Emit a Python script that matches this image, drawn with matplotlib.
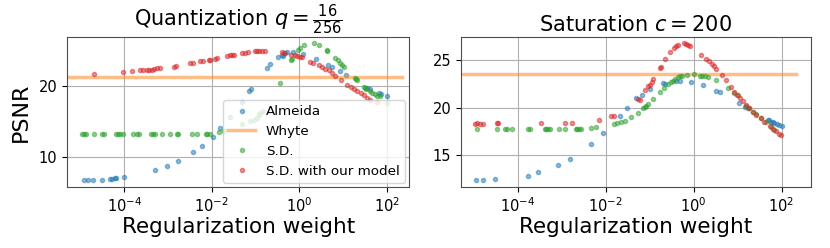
import numpy as np
import matplotlib
matplotlib.use("Agg")
import matplotlib.pyplot as plt

# data: log10(regularization weight) and PSNR
# --- Quantization q = 16/256 ---
q_almeida_logw = [-4.91, -4.82, -4.72, -4.51, -4.32, -4.27, -4.22, -4.18, -4.0, -3.29, -3.02,
                  -2.78, -2.42, -2.22, -1.98, -1.82, -1.58, -1.31, -1.14, -1.10, -0.74, -0.66,
                  -0.49, -0.40, -0.37, -0.32, -0.27, -0.15, 0.08, 0.38, 0.65, 0.75, 0.92, 1.07,
                  1.55, 1.62, 1.81, 1.87, 2.0]
q_almeida_psnr = [6.7, 6.7, 6.7, 6.75, 6.85, 6.85, 6.9, 6.9, 7.05, 8.1, 8.7,
                  9.4, 10.65, 11.5, 12.8, 14.0, 15.6, 17.7, 19.25, 19.55, 22.5, 23.05,
                  24.1, 24.3, 24.2, 24.7, 24.8, 24.8, 24.55, 23.85, 23.0, 22.7, 22.1, 21.5,
                  19.7, 19.5, 18.95, 18.8, 18.5]

q_sd_logw = [-4.97, -4.91, -4.88, -4.70, -4.51, -4.46, -4.19, -4.13, -4.09, -4.02, -3.80,
             -3.70, -3.67, -3.38, -3.33, -3.29, -3.14, -2.95, -2.80, -2.77, -2.44, -2.34,
             -2.13, -2.10, -2.03, -1.84, -1.71, -1.31, -1.12, -1.04, -0.97, -0.93, -0.89,
             -0.82, -0.45, -0.20, -0.17, -0.03, 0.01, 0.11, 0.33, 0.44, 0.63, 0.64, 0.82,
             0.88, 0.93, 0.98, 1.01, 1.28, 1.30, 1.32, 1.47, 1.50, 1.53, 1.61, 1.66, 1.74,
             1.78, 1.84, 2.0]
q_sd_psnr = [13.2, 13.2, 13.2, 13.2, 13.2, 13.2, 13.2, 13.2, 13.2, 13.2, 13.2,
             13.2, 13.2, 13.2, 13.2, 13.2, 13.2, 13.2, 13.2, 13.2, 13.2, 13.2,
             13.2, 13.2, 13.2, 13.5, 13.65, 14.55, 15.0, 15.2, 15.5, 15.9, 16.1,
             16.5, 20.4, 23.6, 23.85, 25.0, 25.3, 25.8, 26.0, 25.75, 25.0, 24.9, 23.95,
             23.6, 23.2, 22.9, 22.7, 21.1, 20.95, 20.8, 19.85, 19.75, 19.6, 19.25, 19.05, 18.8,
             18.6, 18.55, 17.5]

q_ours_logw = [-4.69, -4.02, -3.81, -3.63, -3.58, -3.48, -3.44, -3.37, -3.31, -3.25, -3.19,
               -2.87, -2.81, -2.49, -2.43, -2.26, -2.20, -2.07, -2.03, -1.92, -1.88, -1.65,
               -1.59, -1.54, -1.50, -1.31, -1.23, -1.17, -1.02, -0.97, -0.91, -0.85, -0.79,
               -0.40, -0.34, -0.18, -0.09, -0.05, 0.01, 0.06, 0.25, 0.31, 0.44, 0.52, 0.59,
               0.67, 0.75, 0.82, 0.95, 1.09, 1.17, 1.24, 1.32, 1.40, 1.47, 1.55, 1.62, 1.78]
q_ours_psnr = [21.7, 21.95, 22.05, 22.2, 22.25, 22.3, 22.3, 22.3, 22.35, 22.45, 22.55,
               22.7, 22.75, 23.15, 23.2, 23.45, 23.5, 23.6, 23.65, 23.85, 23.9, 24.2,
               24.3, 24.35, 24.4, 24.7, 24.7, 24.8, 24.9, 24.95, 24.95, 24.95, 24.9,
               24.8, 24.7, 24.35, 24.3, 24.2, 24.1, 24.05, 23.4, 23.25, 22.9, 22.7, 22.4,
               22.2, 21.75, 21.4, 20.8, 20.1, 19.85, 19.5, 19.25, 19.05, 18.7, 18.25, 18.0, 17.7]
q_whyte = 21.3

# --- Saturation c = 200 ---
s_almeida_logw = [-4.94, -4.79, -4.51, -3.77, -3.54, -3.08, -2.80, -2.33, -2.05, -1.68, -1.51,
                  -1.30, -1.17, -0.98, -0.70, -0.65, -0.40, -0.30, -0.05, 0.21, 0.51, 0.59,
                  1.03, 1.16, 1.23, 1.69, 1.72, 1.76, 1.80, 1.84, 1.89, 1.95, 2.0]
s_almeida_psnr = [12.3, 12.3, 12.35, 12.75, 13.1, 13.9, 14.55, 16.1, 17.3, 19.1, 19.95,
                  21.05, 21.35, 22.0, 22.6, 22.55, 22.85, 22.85, 22.7, 22.4, 21.8, 21.65,
                  20.45, 20.1, 20.0, 18.7, 18.65, 18.5, 18.45, 18.35, 18.25, 18.1, 18.0]

s_sd_logw = [-4.93, -4.46, -4.30, -4.24, -4.13, -3.77, -3.73, -3.39, -3.35, -3.31, -3.27,
             -3.05, -2.92, -2.68, -2.65, -2.61, -2.57, -2.34, -2.23, -1.81, -1.74, -1.65,
             -1.55, -1.43, -1.27, -1.15, -1.11, -1.08, -1.04, -0.92, -0.76, -0.68, -0.58,
             -0.52, -0.47, -0.42, -0.36, -0.30, -0.27, -0.15, 0.02, 0.14, 0.19, 0.26, 0.33,
             0.51, 0.78, 0.93, 1.01, 1.20, 1.27, 1.35, 1.42, 1.54, 1.65, 1.76, 1.84]
s_sd_psnr = [17.75, 17.7, 17.7, 17.7, 17.7, 17.7, 17.7, 17.7, 17.7, 17.7, 17.7,
             17.75, 17.75, 17.75, 17.75, 17.75, 17.75, 17.85, 17.95, 18.25, 18.35, 18.5,
             18.6, 19.0, 19.4, 19.95, 20.1, 20.2, 20.35, 20.9, 21.7, 22.05, 22.5,
             22.7, 22.85, 23.0, 23.2, 23.3, 23.35, 23.45, 23.55, 23.4, 23.4, 23.3, 23.25,
             22.95, 22.1, 21.5, 21.3, 20.2, 19.95, 19.55, 19.3, 18.85, 18.45, 17.9, 17.65]

s_ours_logw = [-4.98, -4.92, -4.86, -4.79, -4.47, -4.45, -3.48, -2.92, -2.77, -2.15, -1.87,
               -1.80, -1.27, -1.23, -1.10, -1.04, -1.0, -0.95, -0.92, -0.76, -0.74, -0.65,
               -0.53, -0.45, -0.40, -0.36, -0.22, -0.17, -0.13, -0.09, 0.17, 0.29, 0.36,
               0.42, 0.46, 0.51, 0.64, 0.74, 0.85, 0.93, 0.98, 1.05, 1.12, 1.20, 1.27,
               1.35, 1.42, 1.54, 1.61, 1.73, 1.80, 1.88, 1.95, 1.99]
s_ours_psnr = [18.2, 18.35, 18.25, 18.25, 18.3, 18.3, 18.35, 18.35, 18.4, 18.7, 19.05,
               19.1, 20.9, 20.8, 21.9, 22.25, 22.4, 22.75, 23.0, 24.25, 24.35, 25.15,
               25.95, 26.3, 26.5, 26.6, 26.85, 26.75, 26.65, 26.5, 25.6, 25.2, 24.9,
               24.6, 24.4, 24.1, 23.5, 22.95, 22.2, 21.65, 21.35, 21.0, 20.65, 20.3, 19.95,
               19.55, 19.2, 18.85, 18.45, 18.0, 17.7, 17.45, 17.2, 17.1]
s_whyte = 23.6


def draw_panel(ax, almeida, sd, ours, whyte, title, xlim, whyte_end, ylim, yticks):
    ax.plot(10 ** np.array(almeida[0]), almeida[1], '.', color='C0', alpha=0.5, label='Almeida')
    ax.plot([xlim[0], whyte_end], [whyte, whyte], '-', color='C1', alpha=0.5, lw=2.5, label='Whyte')
    ax.plot(10 ** np.array(sd[0]), sd[1], '.', color='C2', alpha=0.5, label='S.D.')
    ax.plot(10 ** np.array(ours[0]), ours[1], '.', color='C3', alpha=0.5, label='S.D. with our model')
    ax.set_xscale('log')
    ax.set_xlim(*xlim)
    ax.set_ylim(*ylim)
    ax.set_xticks([1e-4, 1e-2, 1e0, 1e2])
    ax.xaxis.set_minor_locator(matplotlib.ticker.NullLocator())
    ax.set_yticks(yticks)
    ax.tick_params(labelsize=10.5)
    ax.grid(True, color='#b0b0b0', lw=0.8)
    for s in ax.spines.values():
        s.set_color('0.3')
    ax.set_title(title, fontsize=15, pad=4)
    ax.set_xlabel('Regularization weight', fontsize=15.5, labelpad=1)


fig = plt.figure(figsize=(8.3, 2.48), dpi=100)
ax1 = fig.add_axes([0.081, 0.246, 0.412, 0.605])
ax2 = fig.add_axes([0.5554, 0.246, 0.4217, 0.605])

draw_panel(ax1, (q_almeida_logw, q_almeida_psnr), (q_sd_logw, q_sd_psnr),
           (q_ours_logw, q_ours_psnr), q_whyte,
           r'Quantization $q = \frac{16}{256}$', (10 ** -5.30, 10 ** 2.51), 225,
           (5.7, 26.9), [10, 20])
ax1.set_ylabel('PSNR', fontsize=16, labelpad=6)
ax1.legend(loc='lower right', fontsize=9.7, borderaxespad=0.3)

draw_panel(ax2, (s_almeida_logw, s_almeida_psnr), (s_sd_logw, s_sd_psnr),
           (s_ours_logw, s_ours_psnr), s_whyte,
           r'Saturation $c = 200$', (10 ** -5.29, 10 ** 2.67), 212,
           (11.55, 27.5), [15, 20, 25])

fig.savefig('out.png', dpi=100)
